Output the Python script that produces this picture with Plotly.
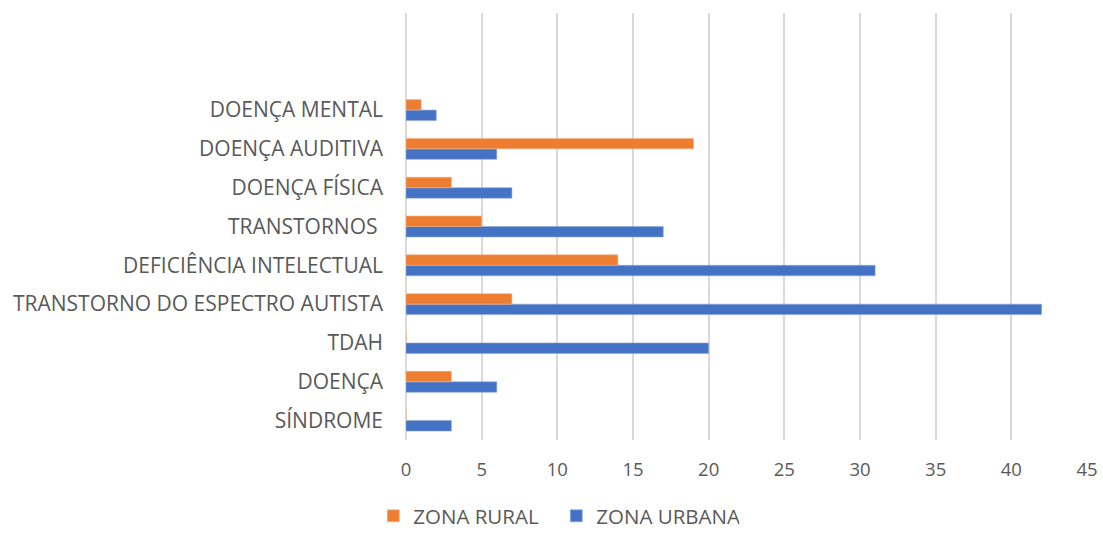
import plotly.graph_objects as go

# Categories listed bottom to top, as they appear on the vertical axis
categories = [
    "SÍNDROME",
    "DOENÇA",
    "TDAH",
    "TRANSTORNO DO ESPECTRO AUTISTA",
    "DEFICIÊNCIA INTELECTUAL",
    "TRANSTORNOS ",
    "DOENÇA FÍSICA",
    "DOENÇA AUDITIVA",
    "DOENÇA MENTAL",
]
zona_rural = [0, 3, 0, 7, 14, 5, 3, 19, 1]
zona_urbana = [3, 6, 20, 42, 31, 17, 7, 6, 2]
x_ticks = [0, 5, 10, 15, 20, 25, 30, 35, 40, 45]

ORANGE = "#ED7D31"
BLUE = "#4472C4"
TEXT = "#595959"
FONT = "Open Sans"

fig = go.Figure()
# Urban trace first so it sits below the rural bar in each group
fig.add_trace(go.Bar(
    y=categories, x=zona_urbana, orientation="h", name="ZONA URBANA",
    marker=dict(color=BLUE, line=dict(color="#8FAADC", width=0.6)),
    legendrank=2,
))
fig.add_trace(go.Bar(
    y=categories, x=zona_rural, orientation="h", name="ZONA RURAL",
    marker=dict(color=ORANGE, line=dict(color="#F4B183", width=0.6)),
    legendrank=1,
))

fig.update_layout(
    width=1103, height=536,
    margin=dict(l=406, r=16, t=13, b=96, autoexpand=False),
    paper_bgcolor="white", plot_bgcolor="white",
    barmode="group", bargap=0.46, bargroupgap=0,
    font=dict(family=FONT, color=TEXT, size=20),
    showlegend=True,
    legend=dict(
        orientation="h", x=-0.048, xanchor="left", y=-0.2248, yanchor="bottom",
        font=dict(family=FONT, color=TEXT, size=20.5),
        itemwidth=30, traceorder="normal", entrywidth=138,
    ),
    xaxis=dict(
        range=[0, 45], tickvals=x_ticks, ticktext=[str(v) for v in x_ticks],
        showgrid=True, gridcolor="#D9D9D9", gridwidth=1.5,
        zeroline=True, zerolinecolor="#D9D9D9", zerolinewidth=1.5,
        showline=False, ticks="", ticklabelstandoff=16, automargin=False,
        tickfont=dict(family=FONT, color=TEXT, size=18.5),
    ),
    yaxis=dict(
        type="category", categoryorder="array", categoryarray=categories,
        range=[-0.5, 10.5], showgrid=False, zeroline=False, showline=False,
        ticks="", ticklabelstandoff=22, automargin=False,
        tickfont=dict(family=FONT, color=TEXT, size=21),
    ),
)

fig.write_html("out.html")
